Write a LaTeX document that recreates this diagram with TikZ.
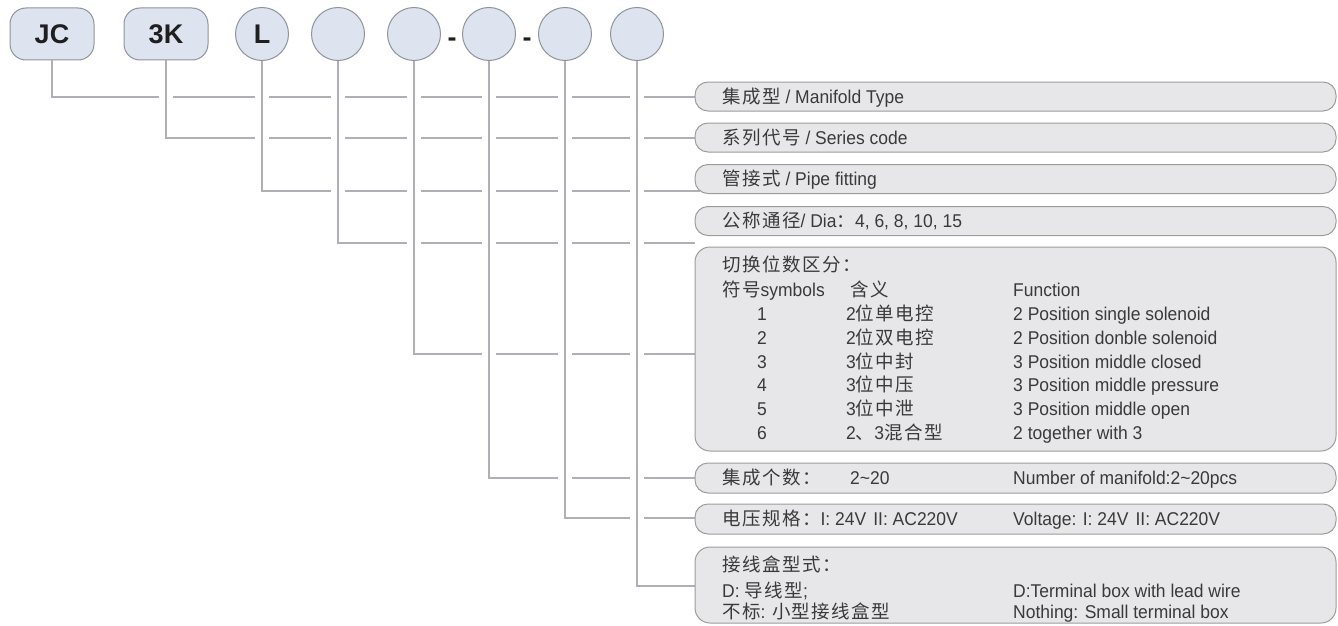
\documentclass[tikz,border=0pt]{standalone}
\usepackage{fontspec}
\setmainfont{Liberation Sans}
\newfontfamily\labfont{Liberation Sans}[FakeStretch=0.945]
\newfontfamily\cjk{Noto Sans CJK SC}[LetterSpace=8]
\definecolor{lineg}{HTML}{AEB0B5}
\definecolor{boxfill}{HTML}{E7E7E9}
\definecolor{boxdraw}{HTML}{9C9C9C}
\definecolor{topfill}{HTML}{DDE4F0}
\definecolor{topdraw}{HTML}{8E939C}
\definecolor{txt}{HTML}{3A3A3A}
\tikzset{
  topbox/.style={draw=topdraw, fill=topfill, line width=1pt, rounded corners=16pt,
    minimum width=84pt, minimum height=52pt, inner sep=0pt,
    font=\fontsize{27}{27}\selectfont\bfseries, text=black!88},
  topcirc/.style={draw=topdraw, fill=topfill, line width=1pt, circle,
    minimum size=53pt, inner sep=0pt,
    font=\fontsize{27}{27}\selectfont\bfseries, text=black!88},
  dashlab/.style={anchor=base, inner sep=0pt, font=\fontsize{27}{27}\selectfont\bfseries, text=black!88},
  conn/.style={draw=lineg, line width=2pt},
  gapline/.style={draw=white, line width=14pt},
  infobox/.style={draw=boxdraw, fill=boxfill, line width=1pt, rounded corners=13pt,
    inner sep=0pt, minimum width=641pt},
  lab/.style={anchor=base west, inner sep=0pt, font=\labfont\fontsize{18.5}{20}\selectfont, text=txt},
  dig/.style={anchor=base, inner sep=0pt, font=\labfont\fontsize{18.5}{20}\selectfont, text=txt},
}
\begin{document}
\begin{tikzpicture}[x=1pt,y=-1pt]
\useasboundingbox (0,0) rectangle (1338,626);
% top code nodes
\node[topbox] (n1) at (52,34) {JC};
\node[topbox] (n2) at (166,34) {3K};
\node[topcirc] (n3) at (262,34) {L};
\node[topcirc] (n4) at (338,34) {};
\node[topcirc] (n5) at (414,34) {};
\node[topcirc] (n6) at (489,34) {};
\node[topcirc] (n7) at (565,34) {};
\node[topcirc] (n8) at (637,34) {};
\node[dashlab] (d1) at (452,47) {-};
\node[dashlab] (d2) at (527,47) {-};
% row end points
\coordinate (r1) at (700,97);
\coordinate (r2) at (700,138);
\coordinate (r3) at (700,191);
\coordinate (r4) at (695,243);
\coordinate (r5) at (700,354);
\coordinate (r6) at (700,478);
\coordinate (r7) at (700,518);
\coordinate (r8) at (700,586);
% connectors
\draw[conn] (n1.south) |- (r1);
\draw[conn] (n2.south) |- (r2);
\draw[conn] (n3.south) |- (r3);
\draw[conn] (n4.south) |- (r4);
\draw[conn] (n5.south) |- (r5);
\draw[conn] (n6.south) |- (r6);
\draw[conn] (n7.south) |- (r7);
\draw[conn] (n8.south) |- (r8);
% gaps where rows cross later verticals
\draw[gapline] ([yshift=5pt]n2.south |- r1) -- ([yshift=-5pt]n2.south |- r1);
\draw[gapline] ([yshift=5pt]n3.south |- r1) -- ([yshift=-5pt]n3.south |- r2);
\draw[gapline] ([yshift=5pt]n4.south |- r1) -- ([yshift=-5pt]n4.south |- r3);
\draw[gapline] ([yshift=5pt]n5.south |- r1) -- ([yshift=-5pt]n5.south |- r4);
\draw[gapline] ([yshift=5pt]n6.south |- r1) -- ([yshift=-5pt]n6.south |- r5);
\draw[gapline] ([yshift=5pt]n7.south |- r1) -- ([yshift=-5pt]n7.south |- r6);
\draw[gapline] ([yshift=5pt]n8.south |- r1) -- ([yshift=-5pt]n8.south |- r7);
% restore verticals
\draw[conn] (n2.south) -- (n2.south |- r2);
\draw[conn] (n3.south) -- (n3.south |- r3);
\draw[conn] (n4.south) -- (n4.south |- r4);
\draw[conn] (n5.south) -- (n5.south |- r5);
\draw[conn] (n6.south) -- (n6.south |- r6);
\draw[conn] (n7.south) -- (n7.south |- r7);
\draw[conn] (n8.south) -- (n8.south |- r8);
% info boxes
\node[infobox, minimum height=29pt] (b1) at (1015.5,96.5) {};
\node[infobox, minimum height=29pt] (b2) at (1015.5,137.5) {};
\node[infobox, minimum height=29pt] (b3) at (1015.5,179) {};
\node[infobox, minimum height=29pt] (b4) at (1015.5,221) {};
\node[infobox, minimum height=204pt, rounded corners=15pt] (b5) at (1015.5,349) {};
\node[infobox, minimum height=30pt] (b6) at (1015.5,478) {};
\node[infobox, minimum height=30pt] (b7) at (1015.5,519) {};
\node[infobox, minimum height=76pt, rounded corners=15pt] (b8) at (1015.5,585) {};
% texts
\node[lab] (t1) at (722,103) {{\cjk 集成型} / Manifold Type};
\node[lab] (t2) at (722,144) {{\cjk 系列代号} / Series code};
\node[lab] (t3) at (722,185.5) {{\cjk 管接式} / Pipe fitting};
\node[lab] (t4) at (722,227.5) {{\cjk 公称通径}/ Dia{\cjk ：}4, 6, 8, 10, 15};
\node[lab] (t5a) at (722,271.5) {{\cjk 切换位数区分：}};
\node[lab] (t5b) at (722,296.5) {{\cjk 符号}symbols};
\node[lab] (t5c) at (850,296.5) {{\cjk 含义}};
\node[lab] (t5d) at (1013,296.5) {Function};
\node[dig] (s1) at (762,320.5) {1};
\node[dig] (s2) at (762,344.5) {2};
\node[dig] (s3) at (762,368) {3};
\node[dig] (s4) at (762,391.5) {4};
\node[dig] (s5) at (762,415.5) {5};
\node[dig] (s6) at (762,439.5) {6};
\node[lab] (m1) at (846,320.5) {2{\cjk 位单电控}};
\node[lab] (m2) at (846,344.5) {2{\cjk 位双电控}};
\node[lab] (m3) at (846,368) {3{\cjk 位中封}};
\node[lab] (m4) at (846,391.5) {3{\cjk 位中压}};
\node[lab] (m5) at (846,415.5) {3{\cjk 位中泄}};
\node[lab] (m6) at (846,439.5) {2{\cjk 、}3{\cjk 混合型}};
\node[lab] (f1) at (1013,320.5) {2 Position single solenoid};
\node[lab] (f2) at (1013,344.5) {2 Position donble solenoid};
\node[lab] (f3) at (1013,368) {3 Position middle closed};
\node[lab] (f4) at (1013,391.5) {3 Position middle pressure};
\node[lab] (f5) at (1013,415.5) {3 Position middle open};
\node[lab] (f6) at (1013,439.5) {2 together with 3};
\node[lab] (t6a) at (722,484.5) {{\cjk 集成个数：}};
\node[lab] (t6b) at (850,484.5) {2\textasciitilde 20};
\node[lab] (t6c) at (1013,484.5) {Number of manifold:2\textasciitilde 20pcs};
\node[lab] (t7a) at (722,525) {{\cjk 电压规格：}I: 24V\hspace{7pt}II: AC220V};
\node[lab] (t7b) at (1013,525) {Voltage: I: 24V\hspace{7pt}II: AC220V};
\node[lab] (t8a) at (722,571.5) {{\cjk 接线盒型式：}};
\node[lab] (t8b) at (722,597) {D: {\cjk 导线型};};
\node[lab] (t8c) at (722,618.5) {{\cjk 不标}: {\cjk 小型接线盒型}};
\node[lab] (t8d) at (1013,597) {D:Terminal box with lead wire};
\node[lab] (t8e) at (1013,618.5) {Nothing: Small terminal box};
\end{tikzpicture}
\end{document}
